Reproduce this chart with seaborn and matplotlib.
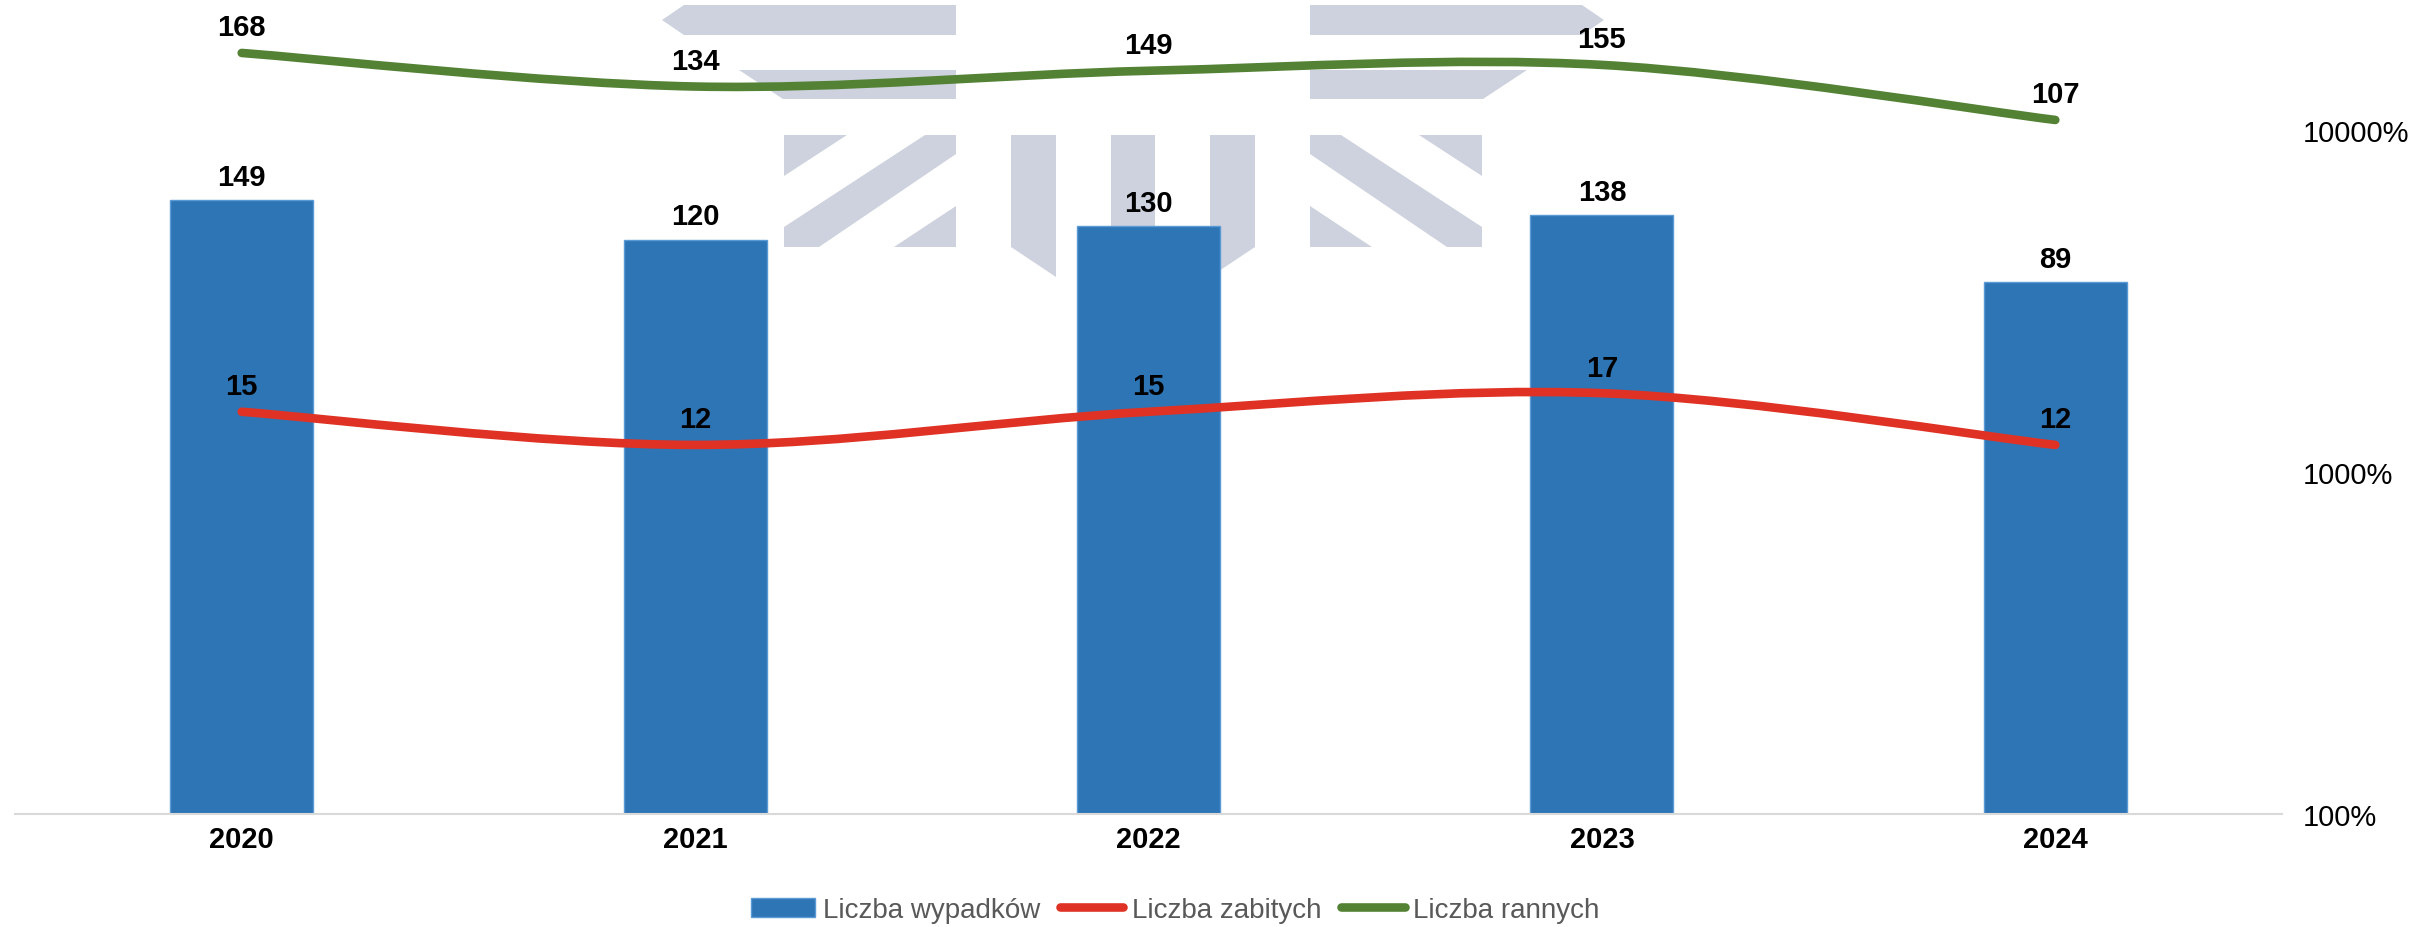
import numpy as np
import pandas as pd
import matplotlib
matplotlib.use("Agg")
import matplotlib.pyplot as plt
import seaborn as sns
from matplotlib.path import Path
from matplotlib.patches import PathPatch, Patch
from matplotlib.lines import Line2D
from matplotlib.ticker import FixedLocator, FuncFormatter, NullLocator

# data
years = ["2020", "2021", "2022", "2023", "2024"]
accidents = [149, 120, 130, 138, 89]     # bars, left (hidden) axis
killed = [15, 12, 15, 17, 12]            # red line, right log axis
injured = [168, 134, 149, 155, 107]      # green line, right log axis
series_names = ["Liczba wypadków", "Liczba zabitych", "Liczba rannych"]
pct_ticks = [1, 10, 100]                 # shown as 100%, 1000%, 10000%

BLUE = "#2E75B6"
RED = "#DF3224"
GREEN = "#548235"
MARK = "#CDD2DE"

sns.set_theme(style="white")
plt.rcParams["font.family"] = ["Liberation Sans", "DejaVu Sans"]

W, H = 2411, 928
fig = plt.figure(figsize=(W / 100, H / 100), dpi=100)

# background logo watermark (pixel coordinates of the figure)
bg = fig.add_axes([0, 0, 1, 1], zorder=0)
bg.set_xlim(0, W)
bg.set_ylim(H, 0)
bg.axis("off")
left_shapes = [
    [(662, 21), (684, 6), (956, 6), (956, 36), (684, 36)],
    [(739, 71), (956, 71), (956, 100), (783, 100)],
    [(784, 136), (847, 136), (784, 177)],
    [(925, 136), (956, 136), (956, 155), (819, 248), (784, 248), (784, 228)],
    [(956, 207), (956, 248), (894, 248)],
    [(1011, 136), (1056, 136), (1056, 278), (1011, 248)],
]
for pts in left_shapes:
    xs, ys = zip(*pts)
    bg.fill(xs, ys, color=MARK, lw=0)
    bg.fill([2266 - x for x in xs], ys, color=MARK, lw=0)
bg.fill([1111, 1155, 1155, 1111], [136, 136, 248, 248], color=MARK, lw=0)

# main axes: bars on a linear axis that starts at -300
ax = fig.add_axes([15 / W, (H - 815) / H, (2282 - 15) / W, 815 / H], zorder=1)
ax.patch.set_visible(False)
df = pd.DataFrame({"rok": years, "wypadki": accidents})
sns.barplot(data=df, x="rok", y="wypadki", color=BLUE, saturation=1,
            width=0.315, edgecolor="#5B9BD5", linewidth=1, ax=ax)
ax.set_ylim(-300, -300 + 815 / 1.367)
floor = ax.get_ylim()[0]
for p in ax.patches:
    top = p.get_y() + p.get_height()
    p.set_y(floor)
    p.set_height(top - floor)
ax.set_xlim(-0.5, 4.5)
ax.set_yticks([])
ax.set_xlabel("")
ax.set_ylabel("")
ax.tick_params(axis="x", length=0, pad=8, labelsize=21, labelcolor="black")
for t in ax.get_xticklabels():
    t.set_fontweight("bold")
sns.despine(ax=ax, left=True)
ax.spines["bottom"].set_color("#D9D9D9")
ax.spines["bottom"].set_linewidth(1.5)

for i, v in enumerate(accidents):
    ax.annotate(str(v), (i, v), xytext=(0, 17), textcoords="offset points",
                ha="center", va="center", fontsize=21, fontweight="bold", color="black")

# secondary log axis for the lines
ax2 = ax.twinx()
ax2.set_zorder(2)
ax2.patch.set_visible(False)
ax2.set_yscale("log")
ax2.set_ylim(1, 10 ** (815 / 342))
ax2.yaxis.set_major_locator(FixedLocator(pct_ticks))
ax2.yaxis.set_minor_locator(NullLocator())
ax2.yaxis.set_major_formatter(FuncFormatter(lambda v, _: f"{v * 100:.0f}%"))
ax2.tick_params(axis="y", length=0, pad=15, labelsize=21, labelcolor="black")
for s in ax2.spines.values():
    s.set_visible(False)


def smooth_path(vals):
    # Catmull-Rom style bezier through the points, in log space
    x = np.arange(len(vals), dtype=float)
    y = np.log10(vals)
    px = np.r_[x[0], x, x[-1]]
    py = np.r_[y[0], y, y[-1]]
    verts = [(x[0], vals[0])]
    codes = [Path.MOVETO]
    for i in range(len(vals) - 1):
        j = i + 1
        c1x = px[j] + (px[j + 1] - px[j - 1]) / 6
        c1y = py[j] + (py[j + 1] - py[j - 1]) / 6
        c2x = px[j + 1] - (px[j + 2] - px[j]) / 6
        c2y = py[j + 1] - (py[j + 2] - py[j]) / 6
        verts += [(c1x, 10 ** c1y), (c2x, 10 ** c2y), (x[i + 1], vals[i + 1])]
        codes += [Path.CURVE4] * 3
    return Path(verts, codes)


for vals, col in [(killed, RED), (injured, GREEN)]:
    ax2.add_patch(PathPatch(smooth_path(vals), fill=False, edgecolor=col,
                            lw=6.2, capstyle="round", joinstyle="round"))
    for i, v in enumerate(vals):
        ax2.annotate(str(v), (i, v), xytext=(0, 18.4), textcoords="offset points",
                     ha="center", va="center", fontsize=21, fontweight="bold", color="black")

handles = [
    Patch(facecolor=BLUE, edgecolor="#5B9BD5"),
    Line2D([], [], color=RED, lw=6.2, solid_capstyle="round"),
    Line2D([], [], color=GREEN, lw=6.2, solid_capstyle="round"),
]
fig.legend(handles, series_names, loc="center", bbox_to_anchor=(1175 / W, (H - 911) / H),
           ncol=3, frameon=False, fontsize=20, handlelength=2.3, handletextpad=0.3,
           columnspacing=0.7, labelcolor="#595959")

fig.savefig("out.png", dpi=100)
